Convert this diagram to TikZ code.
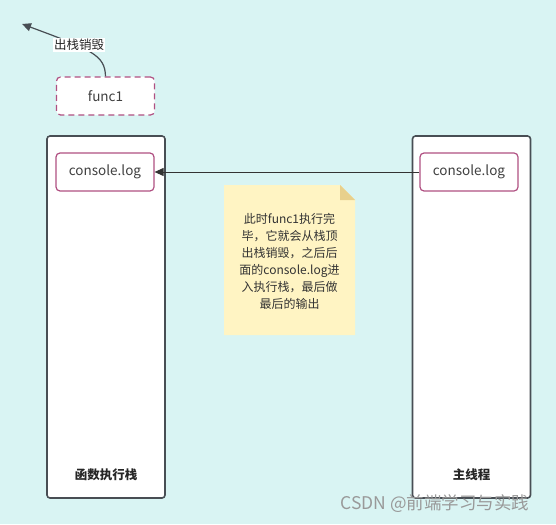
\documentclass[tikz,border=0pt]{standalone}
\usepackage{fontspec}
\setmainfont{Noto Sans CJK SC}
\usetikzlibrary{arrows.meta}

\definecolor{bgCyan}{RGB}{217,244,243}
\definecolor{stackGray}{RGB}{72,78,84}
\definecolor{callPink}{RGB}{176,80,130}
\definecolor{noteYellow}{RGB}{255,244,195}
\definecolor{noteFold}{RGB}{232,208,140}

\tikzstyle{stackBox}=[draw=stackGray,line width=1.6pt,fill=white,rounded corners=3pt,minimum width=118pt,minimum height=362pt]
\tikzstyle{callNode}=[draw=callPink,line width=1.2pt,fill=white,rounded corners=4pt,minimum width=98pt,minimum height=38pt,font=\fontsize{13.5}{15}\selectfont,text=black!75]
\tikzstyle{stackLabel}=[font=\fontsize{12.5}{14}\selectfont\bfseries,text=black!85]

\begin{document}
\begin{tikzpicture}[x=1pt,y=-1pt,>={Triangle[length=9pt,width=8pt]}]

  \fill[bgCyan] (0,0) rectangle (556,524);
  \useasboundingbox (0,0) rectangle (556,524);

  % the two columns
  \node[stackBox] (stack) at (106,317) {};
  \node[stackBox] (main) at (471.5,317) {};
  \node[stackLabel] (stackName) at (106,475) {函数执行栈};
  \node[stackLabel] (mainName) at (471.5,475) {主线程};

  \node[callNode] (stackLog) at (105,172) {console.log};
  \node[callNode] (mainLog) at (469,172) {console.log};
  \node[callNode,dashed,dash pattern=on 6pt off 4pt] (func) at (105.5,96) {func1};

  \path[->,draw,line width=1pt,black!80](mainLog)--(stackLog);

  % popped off the stack
  \coordinate (gone) at (22,24);
  \path[->,draw,line width=1.2pt,stackGray](func.north) .. controls (105,55) and (92,50) .. (gone);
  \node[fill=white,inner sep=1pt,font=\fontsize{12.5}{14}\selectfont,text=black!85] (popLabel) at (79,45) {出栈销毁};

  % sticky note
  \fill[noteYellow] (224,185) -- (340,185) -- (355,200) -- (355,335) -- (224,335) -- cycle;
  \fill[noteFold] (340,185) -- (355,200) -- (340,200) -- cycle;
  \node[align=center,font=\fontsize{12}{17}\selectfont,text=black!80] (note) at (289.5,261) {此时func1执行完\\毕，它就会从栈顶\\出栈销毁，之后后\\面的console.log进\\入执行栈，最后做\\最后的输出};

  \node[font=\fontsize{17.5}{19}\selectfont,text=black!40] (mark) at (435,504) {CSDN @前端学习与实践};

\end{tikzpicture}
\end{document}
